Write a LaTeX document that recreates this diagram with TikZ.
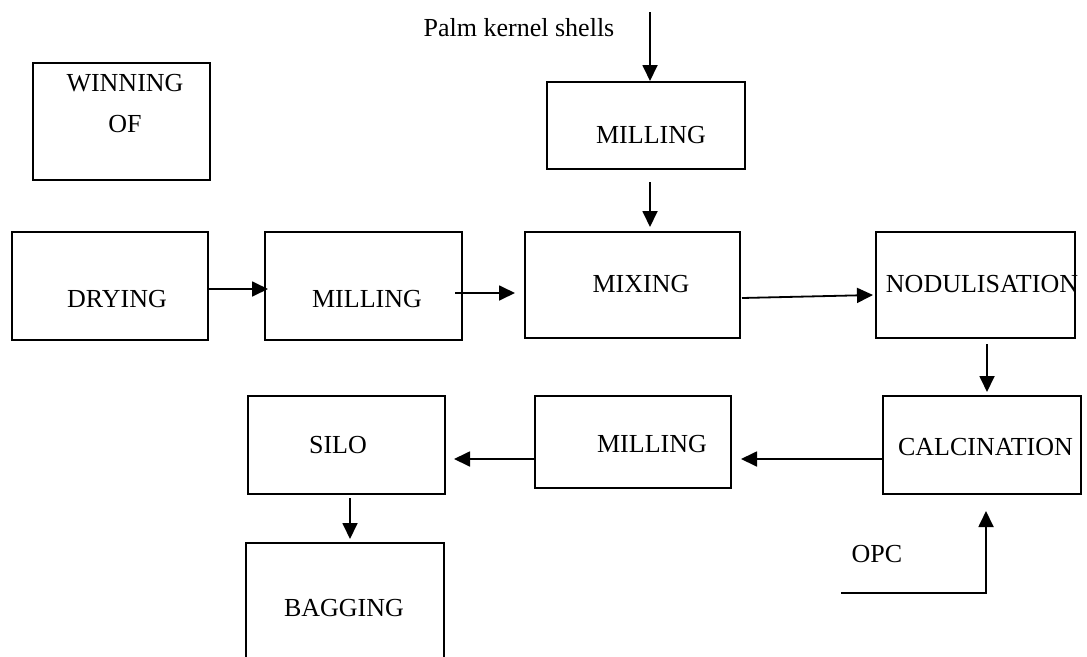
\documentclass[tikz,border=0pt]{standalone}
\usepackage{fontspec}
\setmainfont{Liberation Serif}
\usetikzlibrary{arrows.meta, positioning, calc}
\tikzset{
  stage/.style={rectangle, draw=black, line width=2pt, inner sep=0pt},
  tag/.style={font=\fontsize{26}{41}\selectfont, text=black, align=center, inner sep=0pt},
  flow/.style={-{Triangle[length=16pt, width=15pt]}, line width=1.8pt},
}
\begin{document}
\begin{tikzpicture}[x=1pt, y=-1pt]
      \clip (0,0) rectangle (1087,656);

      \node[stage, minimum width=177pt, minimum height=117pt,
            label={[tag, xshift=3.5pt, yshift=18pt]center:WINNING\\OF}] (win) at (121.5,121.5) {};
      \node[tag] (pks) at (519,28) {Palm kernel shells};
      \node[stage, minimum width=198pt, minimum height=87pt,
            label={[tag, xshift=5pt, yshift=-9.5pt]center:MILLING}] (mill0) at (646,125.5) {};

      \node[stage, minimum width=196pt, minimum height=108pt,
            label={[tag, xshift=7pt, yshift=-13pt]center:DRYING}] (dry) at (110,286) {};
      \node[stage, minimum width=197pt, minimum height=108pt,
            label={[tag, xshift=3.5pt, yshift=-13pt]center:MILLING}] (mil1) at (363.5,286) {};
      \node[stage, minimum width=215pt, minimum height=106pt,
            label={[tag, xshift=8.5pt, yshift=1pt]center:MIXING}] (mix) at (632.5,285) {};
      \node[stage, minimum width=199pt, minimum height=106pt,
            label={[tag, xshift=6.5pt, yshift=1pt]center:NODULISATION}] (nod) at (975.5,285) {};

      \node[stage, minimum width=198pt, minimum height=98pt,
            label={[tag, xshift=3.5pt, yshift=-2pt]center:CALCINATION}] (calc) at (982,445) {};
      \node[stage, minimum width=196pt, minimum height=92pt,
            label={[tag, xshift=19pt, yshift=-2pt]center:MILLING}] (mil2) at (633,442) {};
      \node[stage, minimum width=197pt, minimum height=98pt,
            label={[tag, xshift=-8.5pt]center:SILO}] (silo) at (346.5,445) {};
      \node[stage, minimum width=198pt, minimum height=157pt,
            label={[tag, xshift=-1pt, yshift=13.5pt]center:BAGGING}] (bag) at (345,621.5) {};
      \node[tag] (opc) at (877,554) {OPC};

      \coordinate (pkstop) at (650,12);
      \coordinate (nodout) at ($(nod.south)+(11.5,5)$);
      \coordinate (opcin) at (841,593);

      \draw[flow] (pkstop) -- (pkstop |- mill0.north);
      \draw[flow] ($(pkstop |- mill0.south)+(0,12)$) -- ($(pkstop |- mix.north)+(0,-4)$);
      \draw[flow] ($(dry.east)+(0,3)$) -- ($(mil1.west)+(4,3)$);
      \draw[flow] ($(mil1.east)+(-8,7)$) -- ($(mix.west)+(-9,8)$);
      \draw[flow] ($(mix.east)+(1,13)$) -- ($(nod.west)+(-2,10)$);
      \draw[flow, shorten >=3pt] (nodout) -- (nodout |- calc.north);
      \draw[flow] ($(calc.west)+(0,14)$) -- ($(mil2.east)+(9,17)$);
      \draw[flow] ($(mil2.west)+(0,17)$) -- ($(silo.east)+(8,14)$);
      \draw[flow] ($(silo.south)+(3.5,3)$) -- ($(bag.north)+(5,-3)$);
      \draw[flow] (opcin) -| ($(calc.south)+(4,16)$);
    \end{tikzpicture}
\end{document}
